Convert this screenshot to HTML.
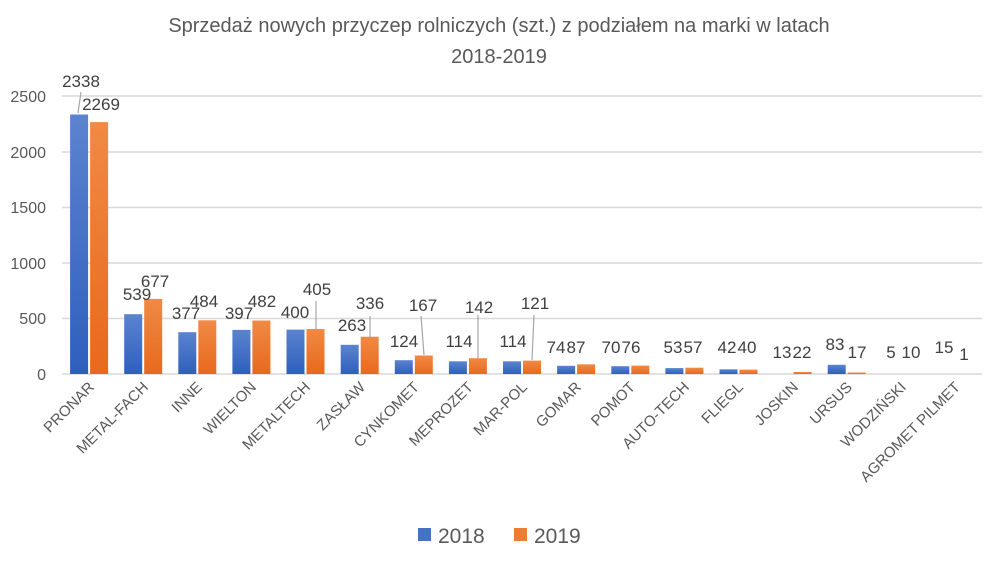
<!DOCTYPE html>
<html><head><meta charset="utf-8"><style>
body{margin:0;background:#fff}
svg{display:block;font-family:"Liberation Sans",sans-serif}
</style></head><body>
<svg width="998" height="564" viewBox="0 0 998 564">
<defs>
<linearGradient id="gb" x1="0" y1="0" x2="0" y2="1"><stop offset="0" stop-color="#5b84cf"/><stop offset="1" stop-color="#2f5fbd"/></linearGradient>
<linearGradient id="go" x1="0" y1="0" x2="0" y2="1"><stop offset="0" stop-color="#f08a45"/><stop offset="1" stop-color="#e8691c"/></linearGradient>
</defs>
<text x="499" y="32" font-size="20" fill="#595959" text-anchor="middle">Sprzedaż nowych przyczep rolniczych (szt.) z podziałem na marki w latach</text>
<text x="499" y="63" font-size="20" fill="#595959" text-anchor="middle">2018-2019</text>
<g stroke="#d9d9d9" stroke-width="1.5">
<line x1="62" x2="982" y1="96" y2="96"/><line x1="62" x2="982" y1="152" y2="152"/>
<line x1="62" x2="982" y1="207.5" y2="207.5"/><line x1="62" x2="982" y1="263" y2="263"/>
<line x1="62" x2="982" y1="318.5" y2="318.5"/><line x1="62" x2="982" y1="374" y2="374"/>
</g>
<g font-size="16" fill="#595959" text-anchor="end">
<text x="46" y="102">2500</text><text x="46" y="158">2000</text><text x="46" y="213">1500</text>
<text x="46" y="269">1000</text><text x="46" y="324">500</text><text x="46" y="380">0</text>
</g>
<g fill="url(#gb)">
<rect x="70.1" y="114.5" width="18" height="259.5"/>
<rect x="124.2" y="314.2" width="18" height="59.8"/>
<rect x="178.3" y="332.2" width="18" height="41.8"/>
<rect x="232.4" y="329.9" width="18" height="44.1"/>
<rect x="286.5" y="329.6" width="18" height="44.4"/>
<rect x="340.7" y="344.8" width="18" height="29.2"/>
<rect x="394.8" y="360.2" width="18" height="13.8"/>
<rect x="448.9" y="361.3" width="18" height="12.7"/>
<rect x="503.0" y="361.3" width="18" height="12.7"/>
<rect x="557.1" y="365.8" width="18" height="8.2"/>
<rect x="611.3" y="366.2" width="18" height="7.8"/>
<rect x="665.4" y="368.1" width="18" height="5.9"/>
<rect x="719.5" y="369.3" width="18" height="4.7"/>
<rect x="827.7" y="364.8" width="18" height="9.2"/>
</g>
<g fill="url(#go)">
<rect x="90.1" y="122.1" width="18" height="251.9"/>
<rect x="144.2" y="298.9" width="18" height="75.1"/>
<rect x="198.3" y="320.3" width="18" height="53.7"/>
<rect x="252.4" y="320.5" width="18" height="53.5"/>
<rect x="306.5" y="329.0" width="18" height="45"/>
<rect x="360.7" y="336.7" width="18" height="37.3"/>
<rect x="414.8" y="355.5" width="18" height="18.5"/>
<rect x="468.9" y="358.2" width="18" height="15.8"/>
<rect x="523.0" y="360.6" width="18" height="13.4"/>
<rect x="577.1" y="364.3" width="18" height="9.7"/>
<rect x="631.3" y="365.6" width="18" height="8.4"/>
<rect x="685.4" y="367.7" width="18" height="6.3"/>
<rect x="739.5" y="369.6" width="18" height="4.4"/>
<rect x="793.6" y="372" width="18" height="2"/>
<rect x="847.7" y="372.5" width="18" height="1.5"/>
</g>
<g stroke="#a6a6a6" stroke-width="1.2">
<line x1="81" y1="92" x2="78" y2="113"/>
<line x1="316" y1="301" x2="316" y2="329"/>
<line x1="370" y1="316" x2="370" y2="337"/>
<line x1="421" y1="316" x2="424" y2="355"/>
<line x1="478" y1="315" x2="478" y2="358"/>
<line x1="534" y1="315" x2="532" y2="360"/>
</g>
<g font-size="17" fill="#404040" text-anchor="middle">
<text x="81" y="87">2338</text><text x="101" y="110">2269</text>
<text x="137" y="300">539</text><text x="155" y="287">677</text>
<text x="186" y="319">377</text><text x="204" y="307">484</text>
<text x="239" y="319">397</text><text x="262" y="307">482</text>
<text x="295" y="318">400</text><text x="317" y="295">405</text>
<text x="352" y="331">263</text><text x="370" y="309">336</text>
<text x="404" y="347">124</text><text x="423" y="311">167</text>
<text x="459" y="347">114</text><text x="479" y="313">142</text>
<text x="513" y="347">114</text><text x="535" y="309">121</text>
<text x="556" y="353">74</text><text x="576" y="353">87</text>
<text x="611" y="353">70</text><text x="631" y="353">76</text>
<text x="673" y="353">53</text><text x="693" y="353">57</text>
<text x="727" y="353">42</text><text x="747" y="353">40</text>
<text x="782" y="358">13</text><text x="802" y="358">22</text>
<text x="835" y="350">83</text><text x="857" y="358">17</text>
<text x="891" y="358">5</text><text x="911" y="358">10</text>
<text x="944" y="353">15</text><text x="964" y="360">1</text>
</g>
<g font-size="15" fill="#595959" text-anchor="end">
<text transform="translate(95,388) rotate(-45)">PRONAR</text>
<text transform="translate(149,388) rotate(-45)">METAL-FACH</text>
<text transform="translate(203,388) rotate(-45)">INNE</text>
<text transform="translate(257,388) rotate(-45)">WIELTON</text>
<text transform="translate(311,388) rotate(-45)">METALTECH</text>
<text transform="translate(366,388) rotate(-45)">ZASŁAW</text>
<text transform="translate(420,388) rotate(-45)">CYNKOMET</text>
<text transform="translate(474,388) rotate(-45)">MEPROZET</text>
<text transform="translate(528,388) rotate(-45)">MAR-POL</text>
<text transform="translate(582,388) rotate(-45)">GOMAR</text>
<text transform="translate(636,388) rotate(-45)">POMOT</text>
<text transform="translate(690,388) rotate(-45)">AUTO-TECH</text>
<text transform="translate(744,388) rotate(-45)">FLIEGL</text>
<text transform="translate(799,388) rotate(-45)">JOSKIN</text>
<text transform="translate(853,388) rotate(-45)">URSUS</text>
<text transform="translate(907,388) rotate(-45)">WODZIŃSKI</text>
<text transform="translate(961,388) rotate(-45)">AGROMET PILMET</text>
</g>
<rect x="418" y="528" width="13" height="13" fill="#4472c4"/>
<text x="438" y="543" font-size="21" fill="#595959">2018</text>
<rect x="514" y="528" width="13" height="13" fill="#ed7d31"/>
<text x="534" y="543" font-size="21" fill="#595959">2019</text>
</svg>
</body></html>
